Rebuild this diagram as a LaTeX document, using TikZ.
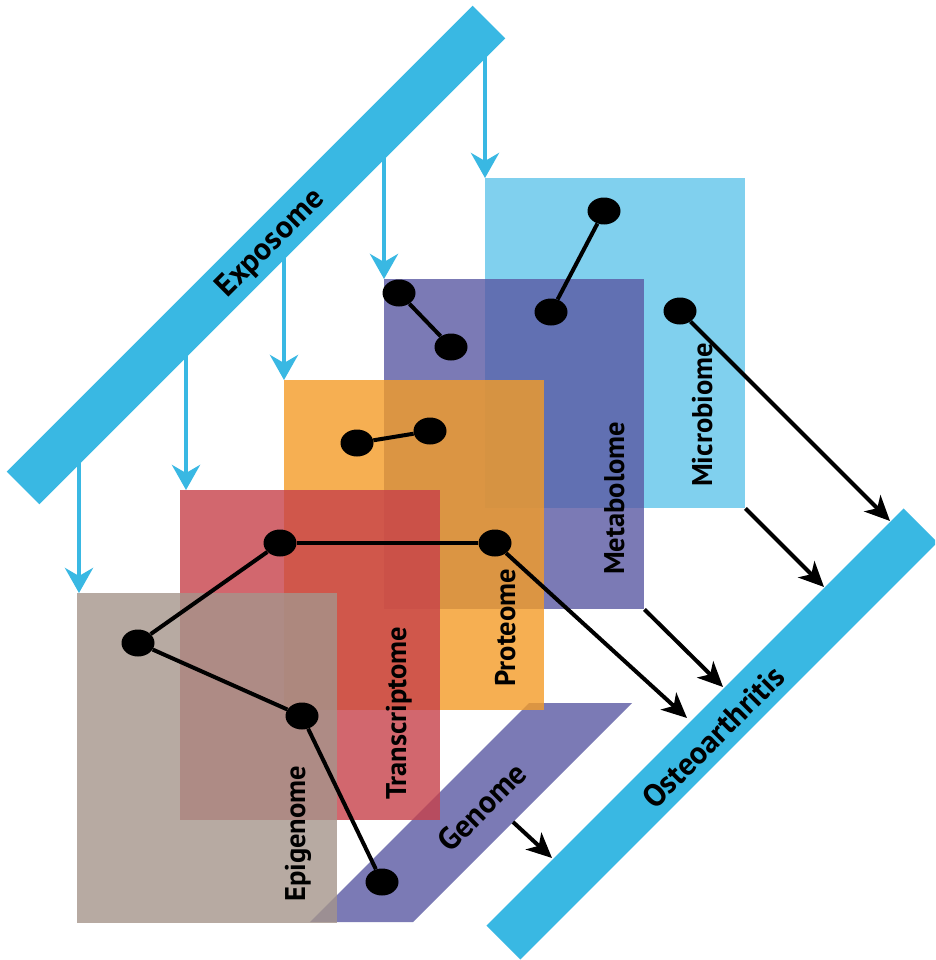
\documentclass[tikz,border=0pt]{standalone}
\usepackage{fontspec}
\setmainfont{PT Sans}
\usetikzlibrary{
  shapes.geometric,
  arrows.meta,
  positioning,
  calc
}
\definecolor{barcolor}{RGB}{57, 184, 227}
\definecolor{microcolor}{RGB}{128, 208, 238}
\definecolor{metacolor}{RGB}{90, 89, 163}
\definecolor{protcolor}{RGB}{244, 156, 39}
\definecolor{transcolor}{RGB}{199, 65, 74}
\definecolor{epicolor}{RGB}{165, 149, 139}
\definecolor{genomecolor}{RGB}{90, 89, 163}
\tikzset{
labeltext/.style={
  font=\bfseries\fontsize{28.5}{28.5}\selectfont,
  text=black,
  inner sep=0pt
},
omicsbox/.style={
  minimum width=260pt,
  minimum height=330pt,
  inner sep=0pt,
  anchor=north west,
  fill opacity=0.8
},
layerlabel/.style={
  labeltext,
  rotate=90,
  anchor=base west
},
bar/.style={
  fill=barcolor,
  rotate=45,
  inner sep=0pt
},
barlabel/.style={
  labeltext,
  font=\bfseries\fontsize{31.5}{31.5}\selectfont,
  rotate=45
},
dot/.style={
  ellipse,
  fill=black,
  minimum width=33pt,
  minimum height=27pt,
  inner sep=0pt
},
link/.style={
  line width=4pt,
  draw=black
},
arrow/.style={
  link,
  -{Stealth[length=25pt, width=23pt, inset=7pt]}
},
exparrow/.style={
  line width=4.5pt,
  draw=barcolor,
  -{Stealth[length=25pt, width=28pt, inset=8pt]}
}
}

\begin{document}
\begin{tikzpicture}[x=1pt, y=-1pt]
  \useasboundingbox (0,0) rectangle (935,960);
  \fill[white] (0,0) rectangle (935,960);
  \clip (0,0) rectangle (935,960);

  % genome strip
  \fill[genomecolor, fill opacity=0.8] (310,922) -- (413,922) -- (632,703) -- (529,703) -- cycle;
  \coordinate (gstart) at (513,822);

  % omics layers
  \node[omicsbox, fill=microcolor, fill opacity=1] (micro) at (485,178) {};
  \node[omicsbox, fill=metacolor] (meta) at (384,279) {};
  \node[omicsbox, fill=protcolor] (prot) at (284,380) {};
  \node[omicsbox, fill=transcolor] (trans) at (180,490) {};
  \node[omicsbox, fill=epicolor] (epi) at (77,593) {};

  \node[layerlabel] (micro-lbl) at (712,487) {Microbiome};
  \node[layerlabel] (meta-lbl) at (624,575) {Metabolome};
  \node[layerlabel] (prot-lbl) at (515,687) {Proteome};
  \node[layerlabel] (trans-lbl) at (406,800) {Transcriptome};
  \node[layerlabel] (epi-lbl) at (305,902) {Epigenome};
  \node[barlabel] (genome-lbl) at (482,807) {Genome};

  % exposome and outcome bars
  \node[bar, minimum width=659pt, minimum height=46pt] (expo) at (256,255) {};
  \node[barlabel] (expo-lbl) at (271,244) {Exposome};
  \node[bar, minimum width=590pt, minimum height=48pt] (oa) at (712,734) {};
  \node[barlabel] (oa-lbl) at (713,737) {Osteoarthritis};

  \coordinate (s1) at (485,52);
  \coordinate (s2) at (384,153);
  \coordinate (s3) at (284,253);
  \coordinate (s4) at (186,347);
  \coordinate (s5) at (79,458);
  \draw[exparrow] (s1) -- (s1 |- micro.north);
  \draw[exparrow] (s2) -- (s2 |- meta.north);
  \draw[exparrow] (s3) -- (s3 |- prot.north);
  \draw[exparrow] (s4) -- (s4 |- trans.north);
  \draw[exparrow] (s5) -- (s5 |- epi.north);

  % molecules
  \node[dot] (m1) at (604,211) {};
  \node[dot] (m2) at (551,312) {};
  \node[dot] (m3) at (680,311) {};
  \node[dot] (b1) at (399,293) {};
  \node[dot] (b2) at (451,347) {};
  \node[dot] (p1) at (357,443) {};
  \node[dot] (p2) at (430,431) {};
  \node[dot] (t1) at (280,543) {};
  \node[dot] (p3) at (495,543) {};
  \node[dot] (e1) at (138,643) {};
  \node[dot] (e2) at (302,716) {};
  \node[dot] (g1) at (382,882) {};

  \draw[link] (m1) -- (m2);
  \draw[link] (b1) -- (b2);
  \draw[link] (p1) -- (p2);
  \draw[link] (e1) -- (t1);
  \draw[link] (t1) -- (p3);
  \draw[link] (e1) -- (e2);
  \draw[link] (e2) -- (g1);

  \coordinate (oa1) at (890,521);
  \coordinate (oa2) at (824,587);
  \coordinate (oa3) at (723,687);
  \coordinate (oa4) at (687,718);
  \coordinate (oa5) at (552,858);
  \draw[arrow] (m3) -- (oa1);
  \draw[arrow] (micro.south east) -- (oa2);
  \draw[arrow] (meta.south east) -- (oa3);
  \draw[arrow] (p3) -- (oa4);
  \draw[arrow] (gstart) -- (oa5);
\end{tikzpicture}
\end{document}
